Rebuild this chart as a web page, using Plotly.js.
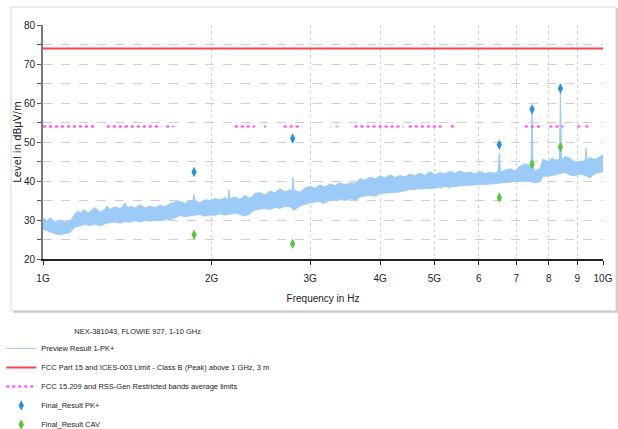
<!DOCTYPE html>
<html>
<head>
<meta charset="utf-8">
<script src="https://cdn.plot.ly/plotly-3.0.1.min.js"></script>
<style>html,body{margin:0;padding:0;background:#fff;}#chart{width:618px;height:429px;}</style>
</head>
<body>
<div id="chart"></div>
<script>
// Frequencies in GHz, levels in dBµV/m
const tickValues = [1, 2, 3, 4, 5, 6, 7, 8, 9, 10];
const tickLabels = ['1G', '2G', '3G', '4G', '5G', '6', '7', '8', '9', '10G'];

// Preview Result 1-PK+ : upper envelope of the measured trace
const previewUpperFreq = [1.000,1.017,1.029,1.051,1.072,1.095,1.117,1.127,1.141,1.155,1.164,1.189,1.203,1.213,1.238,1.264,1.290,1.301,1.317,1.345,1.373,1.401,1.418,1.430,1.460,1.490,1.521,1.553,1.585,1.618,1.652,1.686,1.721,1.757,1.793,1.830,1.852,1.861,1.870,1.907,1.947,1.987,2.029,2.071,2.113,2.140,2.149,2.157,2.202,2.248,2.295,2.342,2.391,2.441,2.491,2.543,2.596,2.650,2.705,2.761,2.784,2.795,2.807,2.877,2.937,2.998,3.060,3.124,3.188,3.255,3.322,3.391,3.461,3.533,3.607,3.682,3.758,3.836,3.916,3.997,4.080,4.165,4.252,4.340,4.430,4.522,4.615,4.711,4.809,4.909,5.012,5.115,5.222,5.330,5.441,5.553,5.669,5.786,5.907,6.029,6.155,6.282,6.413,6.494,6.529,6.561,6.683,6.823,6.965,7.109,7.257,7.407,7.437,7.470,7.499,7.559,7.720,7.815,7.977,8.109,8.243,8.363,8.395,8.433,8.553,8.730,8.913,9.097,9.287,9.324,9.363,9.480,9.676,9.877,10.000];
const previewUpperLevel = [30.5,29.8,30.6,29.5,30.0,29.4,29.8,30.4,31.6,32.4,31.8,32.6,31.7,32.2,33.2,32.0,32.8,33.6,32.7,33.4,32.9,34.3,33.0,33.5,33.0,33.9,33.1,33.6,33.2,33.8,33.4,34.2,34.6,34.8,34.3,35.0,34.6,36.6,34.8,34.5,35.2,35.0,35.5,35.1,35.8,35.2,37.7,35.4,35.9,35.3,36.3,35.6,36.8,37.0,36.4,37.4,37.0,38.0,37.2,37.8,37.4,40.9,37.6,37.1,38.2,38.6,38.2,39.0,38.4,39.3,38.8,39.6,39.0,39.5,39.4,40.6,40.2,41.0,40.5,41.3,40.8,41.6,40.9,41.4,41.0,41.8,41.3,42.0,41.4,42.4,41.6,42.2,41.8,42.5,42.0,42.6,42.0,42.3,41.8,42.4,41.9,42.2,42.0,42.5,47.1,42.3,42.8,43.1,42.6,43.8,44.4,44.0,44.2,57.6,43.6,42.6,43.2,45.6,45.0,45.8,45.3,45.6,62.7,45.4,46.3,45.8,44.9,45.0,45.2,48.4,45.4,46.0,45.5,46.2,46.8];

// lower envelope of the measured trace
const previewLowerFreq = [1.000,1.029,1.051,1.072,1.095,1.117,1.127,1.141,1.164,1.189,1.213,1.238,1.264,1.301,1.345,1.373,1.401,1.430,1.460,1.490,1.521,1.553,1.585,1.618,1.652,1.686,1.721,1.757,1.793,1.830,1.907,1.947,1.987,2.029,2.071,2.113,2.157,2.202,2.248,2.295,2.342,2.391,2.441,2.491,2.543,2.596,2.650,2.705,2.761,2.807,2.877,2.937,2.998,3.060,3.124,3.162,3.255,3.391,3.461,3.533,3.637,3.682,3.836,3.916,3.997,4.165,4.340,4.522,4.711,4.909,5.115,5.222,5.330,5.553,5.786,6.029,6.282,6.529,6.823,7.109,7.257,7.470,7.559,7.720,7.815,8.043,8.209,8.395,8.553,8.730,8.913,9.097,9.287,9.480,9.676,9.877,10.000];
const previewLowerLevel = [27.6,26.9,26.5,26.2,26.5,26.8,27.4,28.2,28.5,28.9,28.6,28.9,28.5,29.2,29.5,29.2,29.6,29.4,29.8,29.5,29.9,29.7,30.0,29.8,30.1,30.0,30.6,31.2,30.8,31.1,31.4,31.0,31.3,31.2,31.6,31.3,31.5,31.8,31.4,31.0,31.6,32.6,32.8,33.0,32.7,33.2,33.0,33.5,33.4,32.5,33.6,34.1,34.4,34.6,34.8,34.2,35.0,35.3,35.0,35.4,35.2,36.0,36.3,36.1,36.8,37.0,37.2,37.8,38.0,38.2,38.3,38.6,38.4,38.8,39.0,39.1,39.2,39.5,39.8,40.0,39.9,39.8,39.5,39.8,41.2,41.3,41.6,42.0,42.2,41.5,41.4,41.8,41.5,40.8,41.9,42.2,42.4];

// FCC Part 15 / ICES-003 peak limit
const limitFreq = [1, 10];
const limitLevel = [74, 74];

// FCC 15.209 / RSS-Gen restricted bands (GHz) at average limit
const bandStart = [1.0, 1.3, 1.435, 1.6455, 1.66, 1.7188, 2.2, 2.31, 2.4835, 2.69, 3.26, 3.332, 3.3458, 3.6, 4.5, 5.35, 7.25, 8.025, 9.0, 9.3];
const bandEnd   = [1.24, 1.427, 1.6265, 1.6465, 1.71, 1.7222, 2.3, 2.39, 2.5, 2.9, 3.267, 3.339, 3.358, 4.4, 5.15, 5.46, 7.75, 8.5, 9.2, 9.5];
const bandLevel = 54;

// Final results
const finalFreq = [1.861, 2.792, 6.529, 7.470, 8.395];
const finalPkLevel = [42.3, 50.9, 49.3, 58.4, 63.7];
const finalCavLevel = [26.2, 23.9, 35.8, 44.3, 48.7];

const bandX = [], bandY = [];
bandStart.forEach((s, i) => { bandX.push(s, bandEnd[i], null); bandY.push(bandLevel, bandLevel, null); });

const sans = 'Liberation Sans, Arial, sans-serif';
const previewColor = '#9ccbf8';

const traces = [
  {x: previewUpperFreq, y: previewUpperLevel, type: 'scatter', mode: 'lines',
   line: {color: previewColor, width: 1}, name: 'Preview Result 1-PK+', hoverinfo: 'skip'},
  {x: previewLowerFreq, y: previewLowerLevel, type: 'scatter', mode: 'lines',
   line: {color: previewColor, width: 1}, fill: 'tonexty', fillcolor: previewColor,
   showlegend: false, hoverinfo: 'skip'},
  {x: limitFreq, y: limitLevel, type: 'scatter', mode: 'lines',
   line: {color: '#f24a4a', width: 2}, name: 'FCC Part 15 and ICES-003 Limit - Class B (Peak) above 1 GHz, 3 m'},
  {x: bandX, y: bandY, type: 'scatter', mode: 'lines', connectgaps: false,
   line: {color: '#ff3dff', width: 2, dash: 'dot'}, name: 'FCC 15.209 and RSS-Gen Restricted bands average limits'},
  {x: finalFreq, y: finalPkLevel, type: 'scatter', mode: 'markers',
   marker: {symbol: 'diamond-tall', size: 7.5, color: '#2a8fdb'}, name: 'Final_Result PK+'},
  {x: finalFreq, y: finalCavLevel, type: 'scatter', mode: 'markers',
   marker: {symbol: 'diamond-tall', size: 7.5, color: '#5cc43a'}, name: 'Final_Result CAV'}
];

const layout = {
  width: 618, height: 429,
  margin: {l: 43, r: 15, t: 25, b: 170, autoexpand: false},
  paper_bgcolor: '#ffffff', plot_bgcolor: '#ffffff',
  font: {family: sans, size: 10, color: '#222'},
  showlegend: true,
  xaxis: {
    type: 'log', range: [0, 1],
    tickvals: tickValues, ticktext: tickLabels,
    ticks: 'outside', ticklen: 4, tickcolor: '#222', ticklabelstandoff: 5,
    showline: true, linecolor: '#222', linewidth: 2,
    showgrid: true, gridcolor: '#cfcfcf', griddash: 'dot', gridwidth: 1,
    zeroline: false,
    tickfont: {family: sans, size: 10, color: '#222'},
    title: {text: 'Frequency in Hz', font: {family: sans, size: 10, color: '#222'}, standoff: 12}
  },
  yaxis: {
    range: [20, 80],
    tickvals: [20, 30, 40, 50, 60, 70, 80],
    ticks: 'outside', ticklen: 4, tickcolor: '#555',
    showline: true, linecolor: '#7a7a7a', linewidth: 2,
    showgrid: true, gridcolor: '#cfcfcf', griddash: 'dash', gridwidth: 1,
    minor: {dtick: 5, tick0: 20, ticks: 'outside', ticklen: 4, tickcolor: '#555', showgrid: true, gridcolor: '#cfcfcf', griddash: 'dash'},
    zeroline: false,
    tickfont: {family: sans, size: 10, color: '#222'},
    title: {text: 'Level in dBµV/m', font: {family: 'DejaVu Sans, Verdana, sans-serif', size: 10, color: '#222'}, standoff: 0}
  },
  legend: {
    x: -0.0745, xanchor: 'left', y: -0.279, yanchor: 'top',
    traceorder: 'normal',
    bgcolor: 'rgba(0,0,0,0)', borderwidth: 0,
    font: {family: sans, size: 7.5, color: '#222'},
    title: {text: 'NEX-381043, FLOWIE 927, 1-10 GHz', side: 'top center', font: {family: sans, size: 7.5, color: '#222'}},
    itemwidth: 30
  },
  shapes: [
    {type: 'rect', xref: 'paper', yref: 'paper', x0: -0.0535, x1: 1.0268, y0: -0.2293, y1: 1.0725,
     fillcolor: '#c9c9c9', line: {width: 0}, layer: 'below'},
    {type: 'rect', xref: 'paper', yref: 'paper', x0: -0.0571, x1: 1.0232, y0: -0.2207, y1: 1.0768,
     fillcolor: '#ffffff', line: {color: '#d9d9d9', width: 1}, layer: 'below'}
  ]
};

Plotly.newPlot('chart', traces, layout, {displayModeBar: false, staticPlot: true});
</script>
</body>
</html>
